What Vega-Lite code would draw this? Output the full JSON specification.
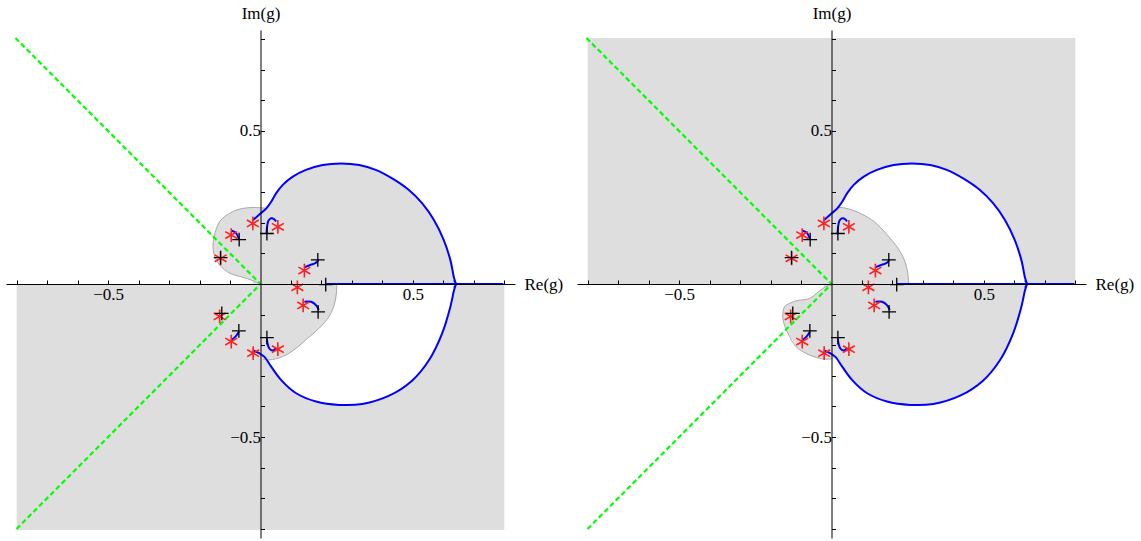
{
  "$schema": "https://vega.github.io/schema/vega-lite/v6.json",
  "autosize": {"type": "none"},
  "padding": {"left": 6, "top": 30, "right": 1135, "bottom": 3},
  "background": "white",
  "config": {
    "view": {"stroke": null},
    "axis": {"grid": false, "domainColor": "#000", "tickColor": "#000", "labelColor": "#000", "titleColor": "#000",
      "labelFont": "Liberation Serif", "labelFontSize": 17, "titleFont": "Liberation Serif", "titleFontSize": 17,
      "titleFontWeight": "normal", "zindex": 1, "tickSize": -4, "labelFlush": false, "labelOverlap": false,
      "domainWidth": 1, "tickWidth": 1}
  },
  "datasets": {
    "rectL": [{"x": -0.8, "x2": 0.8, "y": -0.804, "y2": 0}],
    "rectR": [{"x": -0.8, "x2": 0.8, "y": 0, "y2": 0.804}],
    "circUp": [
      {"x": -0.025, "y": 0.208, "y2": 0}, {"x": -0.003, "y": 0.228, "y2": 0}, {"x": 0.019, "y": 0.247, "y2": 0},
      {"x": 0.035, "y": 0.269, "y2": 0}, {"x": 0.051, "y": 0.296, "y2": 0}, {"x": 0.073, "y": 0.324, "y2": 0},
      {"x": 0.106, "y": 0.351, "y2": 0}, {"x": 0.149, "y": 0.373, "y2": 0}, {"x": 0.204, "y": 0.389, "y2": 0},
      {"x": 0.264, "y": 0.394, "y2": 0}, {"x": 0.324, "y": 0.389, "y2": 0}, {"x": 0.378, "y": 0.373, "y2": 0},
      {"x": 0.432, "y": 0.345, "y2": 0}, {"x": 0.487, "y": 0.307, "y2": 0}, {"x": 0.530, "y": 0.264, "y2": 0},
      {"x": 0.569, "y": 0.209, "y2": 0}, {"x": 0.601, "y": 0.144, "y2": 0}, {"x": 0.623, "y": 0.078, "y2": 0},
      {"x": 0.634, "y": 0.024, "y2": 0}, {"x": 0.640, "y": 0.0, "y2": 0}
    ],
    "circLow": [
      {"x": -0.025, "y": -0.217, "y2": 0}, {"x": -0.003, "y": -0.227, "y2": 0}, {"x": 0.013, "y": -0.238, "y2": 0},
      {"x": 0.035, "y": -0.270, "y2": 0}, {"x": 0.068, "y": -0.314, "y2": 0}, {"x": 0.117, "y": -0.357, "y2": 0},
      {"x": 0.182, "y": -0.384, "y2": 0}, {"x": 0.258, "y": -0.395, "y2": 0}, {"x": 0.334, "y": -0.392, "y2": 0},
      {"x": 0.422, "y": -0.365, "y2": 0}, {"x": 0.498, "y": -0.315, "y2": 0}, {"x": 0.552, "y": -0.250, "y2": 0},
      {"x": 0.596, "y": -0.161, "y2": 0}, {"x": 0.623, "y": -0.074, "y2": 0}, {"x": 0.640, "y": 0.0, "y2": 0}
    ],
    "blobAreaL": [
      {"g": "U", "x": -0.156, "y": 0.122, "y2": 0.122}, {"g": "U", "x": -0.152, "y": 0.095, "y2": 0.155},
      {"g": "U", "x": -0.145, "y": 0.078, "y2": 0.180}, {"g": "U", "x": -0.134, "y": 0.062, "y2": 0.204},
      {"g": "U", "x": -0.118, "y": 0.047, "y2": 0.220}, {"g": "U", "x": -0.101, "y": 0.035, "y2": 0.231},
      {"g": "U", "x": -0.080, "y": 0.028, "y2": 0.241}, {"g": "U", "x": -0.058, "y": 0.022, "y2": 0.247},
      {"g": "U", "x": -0.025, "y": 0.011, "y2": 0.250}, {"g": "U", "x": 0.0, "y": 0.0, "y2": 0.250},
      {"g": "U", "x": 0.02, "y": 0.0, "y2": 0.247},
      {"g": "D", "x": -0.03, "y": -0.216, "y2": 0}, {"g": "D", "x": -0.003, "y": -0.232, "y2": 0},
      {"g": "D", "x": 0.008, "y": -0.246, "y2": 0}, {"g": "D", "x": 0.029, "y": -0.248, "y2": 0},
      {"g": "D", "x": 0.073, "y": -0.237, "y2": 0}, {"g": "D", "x": 0.117, "y": -0.210, "y2": 0},
      {"g": "D", "x": 0.155, "y": -0.177, "y2": 0}, {"g": "D", "x": 0.193, "y": -0.144, "y2": 0},
      {"g": "D", "x": 0.225, "y": -0.106, "y2": 0}, {"g": "D", "x": 0.242, "y": -0.068, "y2": 0},
      {"g": "D", "x": 0.249, "y": -0.030, "y2": 0}, {"g": "D", "x": 0.250, "y": 0.0, "y2": 0}
    ],
    "blobAreaR": [
      {"g": "U", "x": -0.03, "y": 0, "y2": 0.215}, {"g": "U", "x": -0.003, "y": 0, "y2": 0.232},
      {"g": "U", "x": 0.015, "y": 0, "y2": 0.245}, {"g": "U", "x": 0.026, "y": 0, "y2": 0.250},
      {"g": "U", "x": 0.070, "y": 0, "y2": 0.241}, {"g": "U", "x": 0.124, "y": 0, "y2": 0.215},
      {"g": "U", "x": 0.150, "y": 0, "y2": 0.195}, {"g": "U", "x": 0.179, "y": 0, "y2": 0.165},
      {"g": "U", "x": 0.202, "y": 0, "y2": 0.138}, {"g": "U", "x": 0.222, "y": 0, "y2": 0.111},
      {"g": "U", "x": 0.236, "y": 0, "y2": 0.085}, {"g": "U", "x": 0.246, "y": 0, "y2": 0.057},
      {"g": "U", "x": 0.251, "y": 0, "y2": 0.030}, {"g": "U", "x": 0.253, "y": 0, "y2": 0.0},
      {"g": "D", "x": -0.160, "y": -0.107, "y2": -0.107}, {"g": "D", "x": -0.154, "y": -0.135, "y2": -0.074},
      {"g": "D", "x": -0.143, "y": -0.161, "y2": -0.066}, {"g": "D", "x": -0.127, "y": -0.185, "y2": -0.058},
      {"g": "D", "x": -0.116, "y": -0.205, "y2": -0.055}, {"g": "D", "x": -0.072, "y": -0.232, "y2": -0.047},
      {"g": "D", "x": -0.028, "y": -0.245, "y2": -0.014}, {"g": "D", "x": 0.0, "y": -0.245, "y2": 0.0},
      {"g": "D", "x": 0.015, "y": -0.240, "y2": 0.0}
    ],
    "blobLineL": [
      {"g": "U", "o": 1, "x": 0.015, "y": 0.248}, {"g": "U", "o": 2, "x": -0.025, "y": 0.250},
      {"g": "U", "o": 3, "x": -0.058, "y": 0.247}, {"g": "U", "o": 4, "x": -0.080, "y": 0.241},
      {"g": "U", "o": 5, "x": -0.101, "y": 0.231}, {"g": "U", "o": 6, "x": -0.118, "y": 0.220},
      {"g": "U", "o": 7, "x": -0.134, "y": 0.204}, {"g": "U", "o": 8, "x": -0.145, "y": 0.180},
      {"g": "U", "o": 9, "x": -0.152, "y": 0.155}, {"g": "U", "o": 10, "x": -0.156, "y": 0.122},
      {"g": "U", "o": 11, "x": -0.152, "y": 0.095}, {"g": "U", "o": 12, "x": -0.145, "y": 0.078},
      {"g": "U", "o": 13, "x": -0.134, "y": 0.062}, {"g": "U", "o": 14, "x": -0.118, "y": 0.047},
      {"g": "U", "o": 15, "x": -0.101, "y": 0.035}, {"g": "U", "o": 16, "x": -0.080, "y": 0.028},
      {"g": "U", "o": 17, "x": -0.058, "y": 0.022}, {"g": "U", "o": 18, "x": -0.025, "y": 0.011},
      {"g": "U", "o": 19, "x": 0.0, "y": 0.0},
      {"g": "D", "o": 1, "x": 0.250, "y": 0.0}, {"g": "D", "o": 2, "x": 0.249, "y": -0.030},
      {"g": "D", "o": 3, "x": 0.242, "y": -0.068}, {"g": "D", "o": 4, "x": 0.225, "y": -0.106},
      {"g": "D", "o": 5, "x": 0.193, "y": -0.144}, {"g": "D", "o": 6, "x": 0.155, "y": -0.177},
      {"g": "D", "o": 7, "x": 0.117, "y": -0.210}, {"g": "D", "o": 8, "x": 0.073, "y": -0.237},
      {"g": "D", "o": 9, "x": 0.029, "y": -0.248}, {"g": "D", "o": 10, "x": 0.008, "y": -0.246}
    ],
    "blobLineR": [
      {"g": "U", "o": 1, "x": 0.015, "y": 0.245}, {"g": "U", "o": 2, "x": 0.026, "y": 0.250},
      {"g": "U", "o": 3, "x": 0.070, "y": 0.241}, {"g": "U", "o": 4, "x": 0.124, "y": 0.215},
      {"g": "U", "o": 5, "x": 0.150, "y": 0.195}, {"g": "U", "o": 6, "x": 0.179, "y": 0.165},
      {"g": "U", "o": 7, "x": 0.202, "y": 0.138}, {"g": "U", "o": 8, "x": 0.222, "y": 0.111},
      {"g": "U", "o": 9, "x": 0.236, "y": 0.085}, {"g": "U", "o": 10, "x": 0.246, "y": 0.057},
      {"g": "U", "o": 11, "x": 0.251, "y": 0.030}, {"g": "U", "o": 12, "x": 0.253, "y": 0.0},
      {"g": "D", "o": 1, "x": 0.0, "y": 0.0}, {"g": "D", "o": 2, "x": -0.028, "y": -0.014},
      {"g": "D", "o": 3, "x": -0.072, "y": -0.047}, {"g": "D", "o": 4, "x": -0.116, "y": -0.055},
      {"g": "D", "o": 5, "x": -0.143, "y": -0.066}, {"g": "D", "o": 6, "x": -0.154, "y": -0.074},
      {"g": "D", "o": 7, "x": -0.160, "y": -0.107}, {"g": "D", "o": 8, "x": -0.154, "y": -0.135},
      {"g": "D", "o": 9, "x": -0.143, "y": -0.161}, {"g": "D", "o": 10, "x": -0.116, "y": -0.205},
      {"g": "D", "o": 11, "x": -0.072, "y": -0.232}, {"g": "D", "o": 12, "x": -0.028, "y": -0.245},
      {"g": "D", "o": 13, "x": 0.0, "y": -0.245}
    ],
    "green": [
      {"o": 1, "x": -0.804, "y": 0.804}, {"o": 2, "x": 0.0, "y": 0.0}, {"o": 3, "x": -0.804, "y": -0.804}
    ],
    "blue": [
      {"g": "c", "o": 1, "x": -0.025, "y": 0.208}, {"g": "c", "o": 2, "x": -0.003, "y": 0.228},
      {"g": "c", "o": 3, "x": 0.019, "y": 0.247}, {"g": "c", "o": 4, "x": 0.035, "y": 0.269},
      {"g": "c", "o": 5, "x": 0.051, "y": 0.296}, {"g": "c", "o": 6, "x": 0.073, "y": 0.324},
      {"g": "c", "o": 7, "x": 0.106, "y": 0.351}, {"g": "c", "o": 8, "x": 0.149, "y": 0.373},
      {"g": "c", "o": 9, "x": 0.204, "y": 0.389}, {"g": "c", "o": 10, "x": 0.264, "y": 0.394},
      {"g": "c", "o": 11, "x": 0.324, "y": 0.389}, {"g": "c", "o": 12, "x": 0.378, "y": 0.373},
      {"g": "c", "o": 13, "x": 0.432, "y": 0.345}, {"g": "c", "o": 14, "x": 0.487, "y": 0.307},
      {"g": "c", "o": 15, "x": 0.530, "y": 0.264}, {"g": "c", "o": 16, "x": 0.569, "y": 0.209},
      {"g": "c", "o": 17, "x": 0.601, "y": 0.144}, {"g": "c", "o": 18, "x": 0.623, "y": 0.078},
      {"g": "c", "o": 19, "x": 0.634, "y": 0.024}, {"g": "c", "o": 20, "x": 0.640, "y": 0.0},
      {"g": "c", "o": 21, "x": 0.634, "y": -0.024}, {"g": "c", "o": 22, "x": 0.623, "y": -0.074},
      {"g": "c", "o": 23, "x": 0.596, "y": -0.161}, {"g": "c", "o": 24, "x": 0.552, "y": -0.250},
      {"g": "c", "o": 25, "x": 0.498, "y": -0.315}, {"g": "c", "o": 26, "x": 0.422, "y": -0.365},
      {"g": "c", "o": 27, "x": 0.334, "y": -0.392}, {"g": "c", "o": 28, "x": 0.258, "y": -0.395},
      {"g": "c", "o": 29, "x": 0.182, "y": -0.384}, {"g": "c", "o": 30, "x": 0.117, "y": -0.357},
      {"g": "c", "o": 31, "x": 0.068, "y": -0.314}, {"g": "c", "o": 32, "x": 0.035, "y": -0.270},
      {"g": "c", "o": 33, "x": 0.013, "y": -0.238}, {"g": "c", "o": 34, "x": -0.003, "y": -0.227},
      {"g": "c", "o": 35, "x": -0.025, "y": -0.217},
      {"g": "b1", "o": 1, "x": -0.094, "y": 0.174}, {"g": "b1", "o": 2, "x": -0.080, "y": 0.166}, {"g": "b1", "o": 3, "x": -0.071, "y": 0.146},
      {"g": "b2", "o": 1, "x": 0.020, "y": 0.166}, {"g": "b2", "o": 2, "x": 0.022, "y": 0.190}, {"g": "b2", "o": 3, "x": 0.026, "y": 0.207},
      {"g": "b2", "o": 4, "x": 0.035, "y": 0.215}, {"g": "b2", "o": 5, "x": 0.046, "y": 0.211}, {"g": "b2", "o": 6, "x": 0.051, "y": 0.204},
      {"g": "b3", "o": 1, "x": 0.145, "y": 0.055}, {"g": "b3", "o": 2, "x": 0.165, "y": 0.063}, {"g": "b3", "o": 3, "x": 0.180, "y": 0.068}, {"g": "b3", "o": 4, "x": 0.190, "y": 0.078},
      {"g": "b4", "o": 1, "x": 0.144, "y": -0.058}, {"g": "b4", "o": 2, "x": 0.166, "y": -0.058}, {"g": "b4", "o": 3, "x": 0.182, "y": -0.069}, {"g": "b4", "o": 4, "x": 0.191, "y": -0.085},
      {"g": "b5", "o": 1, "x": 0.021, "y": -0.178}, {"g": "b5", "o": 2, "x": 0.024, "y": -0.199}, {"g": "b5", "o": 3, "x": 0.030, "y": -0.212},
      {"g": "b5", "o": 4, "x": 0.040, "y": -0.217}, {"g": "b5", "o": 5, "x": 0.051, "y": -0.210},
      {"g": "b6", "o": 1, "x": -0.096, "y": -0.183}, {"g": "b6", "o": 2, "x": -0.082, "y": -0.172}, {"g": "b6", "o": 3, "x": -0.071, "y": -0.156},
      {"g": "ax", "o": 1, "x": 0.215, "y": 0.0}, {"g": "ax", "o": 2, "x": 0.797, "y": 0.0}
    ],
    "arrow": [{"x": 0.645, "y": 0.0}],
    "zeros": [
      {"x": -0.025, "y": 0.198}, {"x": 0.057, "y": 0.187}, {"x": -0.096, "y": 0.160}, {"x": -0.131, "y": 0.084},
      {"x": 0.144, "y": 0.044}, {"x": 0.121, "y": -0.011}, {"x": 0.140, "y": -0.070}, {"x": -0.134, "y": -0.106},
      {"x": -0.096, "y": -0.188}, {"x": 0.057, "y": -0.213}, {"x": -0.024, "y": -0.226}
    ],
    "poles": [
      {"x": 0.021, "y": 0.165}, {"x": -0.070, "y": 0.145}, {"x": -0.131, "y": 0.086}, {"x": 0.188, "y": 0.079},
      {"x": 0.214, "y": -0.002}, {"x": 0.189, "y": -0.091}, {"x": -0.127, "y": -0.096}, {"x": -0.071, "y": -0.153},
      {"x": 0.021, "y": -0.175}
    ]
  },
  "spacing": 62,
  "bounds": "flush",
  "hconcat": [
    {
      "width": 509, "height": 508,
      "encoding": {
        "x": {"field": "x", "type": "quantitative", "scale": {"domain": [-0.835, 0.835], "nice": false, "zero": false},
          "axis": {"orient": "bottom", "offset": -254, "zindex": 2, "values": [-0.8, -0.7, -0.6, -0.5, -0.4, -0.3, -0.2, -0.1, 0.1, 0.2, 0.3, 0.4, 0.5, 0.6, 0.7, 0.8],
            "labelExpr": "datum.value == 0.5 ? '0.5' : (datum.value == -0.5 ? '−0.5' : '')", "labelPadding": 6,
            "labelFont": "Liberation Serif", "labelFontSize": 17, "titleFont": "Liberation Serif", "titleFontSize": 17,
            "title": "Re(g)", "titleX": 518, "titleY": 0, "titleAlign": "left", "titleBaseline": "middle", "titleAngle": 0}},
        "y": {"field": "y", "type": "quantitative", "scale": {"domain": [-0.83, 0.83], "nice": false, "zero": false},
          "axis": {"orient": "left", "offset": -254.5, "zindex": 2, "values": [-0.8, -0.7, -0.6, -0.5, -0.4, -0.3, -0.2, -0.1, 0.1, 0.2, 0.3, 0.4, 0.5, 0.6, 0.7, 0.8],
            "labelExpr": "datum.value == 0.5 ? '0.5' : (datum.value == -0.5 ? '−0.5' : '')", "labelPadding": 4,
            "labelFont": "Liberation Serif", "labelFontSize": 17, "titleFont": "Liberation Serif", "titleFontSize": 17,
            "title": "Im(g)", "titleX": 0, "titleY": -17, "titleAlign": "center", "titleBaseline": "middle", "titleAngle": 0}}
      },
      "layer": [
        {"data": {"name": "rectL"}, "mark": {"type": "rect", "color": "#dedede"}, "encoding": {"x2": {"field": "x2"}, "y2": {"field": "y2"}}},
        {"data": {"name": "circLow"}, "mark": {"type": "area", "color": "#ffffff", "interpolate": "catmull-rom"}, "encoding": {"y2": {"field": "y2"}}},
        {"data": {"name": "blobAreaL"}, "mark": {"type": "area", "color": "#dedede", "interpolate": "catmull-rom"}, "encoding": {"y2": {"field": "y2"}, "detail": {"field": "g"}}},
        {"data": {"name": "circUp"}, "mark": {"type": "area", "color": "#dedede", "interpolate": "catmull-rom"}, "encoding": {"y2": {"field": "y2"}}},
        {"data": {"name": "blobLineL"}, "mark": {"type": "line", "color": "#a8a8a8", "strokeWidth": 1, "interpolate": "catmull-rom"}, "encoding": {"detail": {"field": "g"}, "order": {"field": "o"}}},
        {"data": {"name": "green"}, "mark": {"type": "line", "color": "#00ff00", "strokeWidth": 2.2, "strokeDash": [5, 3]}, "encoding": {"order": {"field": "o"}}},
        {"data": {"name": "blue"}, "mark": {"type": "line", "color": "#0000ff", "strokeWidth": 2, "interpolate": "catmull-rom"}, "encoding": {"detail": {"field": "g"}, "order": {"field": "o"}}},
        {"data": {"name": "arrow"}, "mark": {"type": "point", "shape": "M-1,-1L0,0L-1,1", "filled": false, "color": "#0000ff", "strokeWidth": 1.6, "size": 50}},
        {"data": {"name": "zeros"}, "mark": {"type": "point", "shape": "M0,-1L0,1M-0.866,-0.5L0.866,0.5M-0.866,0.5L0.866,-0.5", "filled": false, "color": "#ff2020", "strokeWidth": 1.6, "size": 190, "opacity": 1}},
        {"data": {"name": "poles"}, "mark": {"type": "point", "shape": "M-1,0L1,0M0,-1L0,1", "filled": false, "color": "#000000", "strokeWidth": 1.3, "size": 190, "opacity": 1}}
      ]
    },
    {
      "width": 509, "height": 508,
      "encoding": {
        "x": {"field": "x", "type": "quantitative", "scale": {"domain": [-0.835, 0.835], "nice": false, "zero": false},
          "axis": {"orient": "bottom", "offset": -254, "zindex": 2, "values": [-0.8, -0.7, -0.6, -0.5, -0.4, -0.3, -0.2, -0.1, 0.1, 0.2, 0.3, 0.4, 0.5, 0.6, 0.7, 0.8],
            "labelExpr": "datum.value == 0.5 ? '0.5' : (datum.value == -0.5 ? '−0.5' : '')", "labelPadding": 6,
            "labelFont": "Liberation Serif", "labelFontSize": 17, "titleFont": "Liberation Serif", "titleFontSize": 17,
            "title": "Re(g)", "titleX": 518, "titleY": 0, "titleAlign": "left", "titleBaseline": "middle", "titleAngle": 0}},
        "y": {"field": "y", "type": "quantitative", "scale": {"domain": [-0.83, 0.83], "nice": false, "zero": false},
          "axis": {"orient": "left", "offset": -254.5, "zindex": 2, "values": [-0.8, -0.7, -0.6, -0.5, -0.4, -0.3, -0.2, -0.1, 0.1, 0.2, 0.3, 0.4, 0.5, 0.6, 0.7, 0.8],
            "labelExpr": "datum.value == 0.5 ? '0.5' : (datum.value == -0.5 ? '−0.5' : '')", "labelPadding": 4,
            "labelFont": "Liberation Serif", "labelFontSize": 17, "titleFont": "Liberation Serif", "titleFontSize": 17,
            "title": "Im(g)", "titleX": 0, "titleY": -17, "titleAlign": "center", "titleBaseline": "middle", "titleAngle": 0}}
      },
      "layer": [
        {"data": {"name": "rectR"}, "mark": {"type": "rect", "color": "#dedede"}, "encoding": {"x2": {"field": "x2"}, "y2": {"field": "y2"}}},
        {"data": {"name": "circUp"}, "mark": {"type": "area", "color": "#ffffff", "interpolate": "catmull-rom"}, "encoding": {"y2": {"field": "y2"}}},
        {"data": {"name": "circLow"}, "mark": {"type": "area", "color": "#dedede", "interpolate": "catmull-rom"}, "encoding": {"y2": {"field": "y2"}}},
        {"data": {"name": "blobAreaR"}, "mark": {"type": "area", "color": "#dedede", "interpolate": "catmull-rom"}, "encoding": {"y2": {"field": "y2"}, "detail": {"field": "g"}}},
        {"data": {"name": "blobLineR"}, "mark": {"type": "line", "color": "#a8a8a8", "strokeWidth": 1, "interpolate": "catmull-rom"}, "encoding": {"detail": {"field": "g"}, "order": {"field": "o"}}},
        {"data": {"name": "green"}, "mark": {"type": "line", "color": "#00ff00", "strokeWidth": 2.2, "strokeDash": [5, 3]}, "encoding": {"order": {"field": "o"}}},
        {"data": {"name": "blue"}, "mark": {"type": "line", "color": "#0000ff", "strokeWidth": 2, "interpolate": "catmull-rom"}, "encoding": {"detail": {"field": "g"}, "order": {"field": "o"}}},
        {"data": {"name": "arrow"}, "mark": {"type": "point", "shape": "M-1,-1L0,0L-1,1", "filled": false, "color": "#0000ff", "strokeWidth": 1.6, "size": 50}},
        {"data": {"name": "zeros"}, "mark": {"type": "point", "shape": "M0,-1L0,1M-0.866,-0.5L0.866,0.5M-0.866,0.5L0.866,-0.5", "filled": false, "color": "#ff2020", "strokeWidth": 1.6, "size": 190, "opacity": 1}},
        {"data": {"name": "poles"}, "mark": {"type": "point", "shape": "M-1,0L1,0M0,-1L0,1", "filled": false, "color": "#000000", "strokeWidth": 1.3, "size": 190, "opacity": 1}}
      ]
    }
  ]
}
